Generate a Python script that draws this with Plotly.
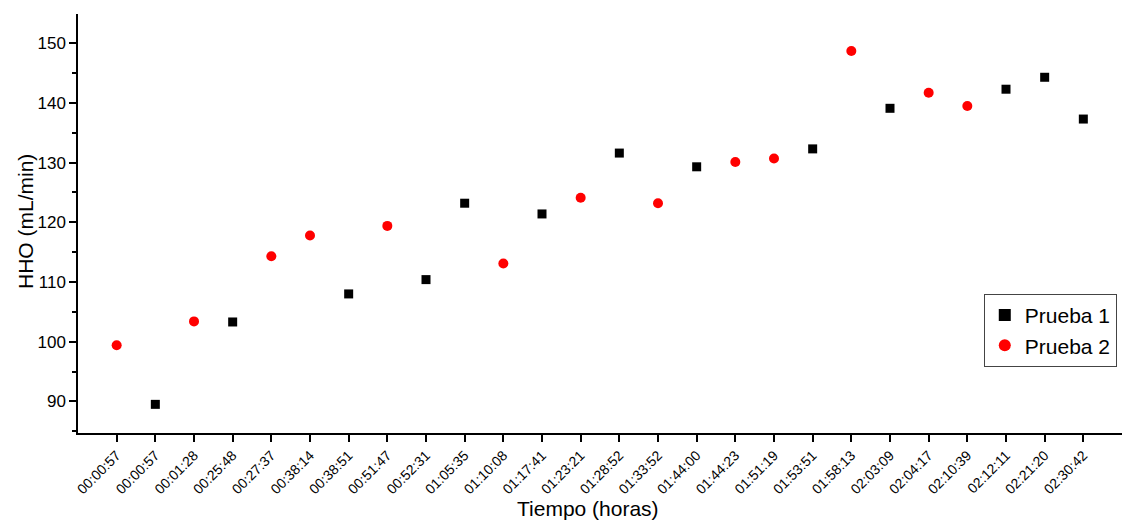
import plotly.graph_objects as go

# Time stamps of each measurement (x axis categories, in order)
tick_labels = [
    "00:00:57", "00:00:57", "00:01:28", "00:25:48", "00:27:37", "00:38:14",
    "00:38:51", "00:51:47", "00:52:31", "01:05:35", "01:10:08", "01:17:41",
    "01:23:21", "01:28:52", "01:33:52", "01:44:00", "01:44:23", "01:51:19",
    "01:53:51", "01:58:13", "02:03:09", "02:04:17", "02:10:39", "02:12:11",
    "02:21:20", "02:30:42",
]

# Prueba 1: category position (1-based) and HHO flow (mL/min)
p1_pos = [2, 4, 7, 9, 10, 12, 14, 16, 19, 21, 24, 25, 26]
p1_hho = [89.5, 103.3, 108.0, 110.4, 123.2, 121.4, 131.6, 129.3, 132.3, 139.1, 142.3, 144.3, 137.3]

# Prueba 2: category position (1-based) and HHO flow (mL/min)
p2_pos = [1, 3, 5, 6, 8, 11, 13, 15, 17, 18, 20, 22, 23]
p2_hho = [99.4, 103.4, 114.3, 117.8, 119.4, 113.1, 124.1, 123.2, 130.1, 130.7, 148.7, 141.7, 139.5]

FONT = "Arial, 'Liberation Sans', sans-serif"

fig = go.Figure()
fig.add_trace(go.Scatter(
    x=p1_pos, y=p1_hho, mode="markers", name="Prueba 1",
    marker=dict(symbol="square", size=9, color="black"),
))
fig.add_trace(go.Scatter(
    x=p2_pos, y=p2_hho, mode="markers", name="Prueba 2",
    marker=dict(symbol="circle", size=10, color="#ff0000"),
))

fig.update_layout(
    width=1122, height=520,
    margin=dict(l=78, r=0, t=14, b=87),
    paper_bgcolor="white", plot_bgcolor="white",
    font=dict(family=FONT, color="black"),
    showlegend=True,
    legend=dict(
        x=0.995, y=0.332, xanchor="right", yanchor="top",
        bordercolor="#444444", borderwidth=1,
        font=dict(size=21, family=FONT),
        itemsizing="constant", tracegroupgap=0,
    ),
    xaxis=dict(
        range=[0, 27], tickmode="array",
        tickvals=list(range(1, len(tick_labels) + 1)), ticktext=tick_labels,
        tickangle=-45, tickfont=dict(size=14),
        showline=True, linecolor="black", linewidth=1.5,
        ticks="outside", ticklen=7, tickwidth=1.5, tickcolor="black",
        showgrid=False, zeroline=False,
    ),
    yaxis=dict(
        range=[84.7, 154.9], tickmode="linear", tick0=90, dtick=10,
        tickfont=dict(size=17),
        showline=True, linecolor="black", linewidth=1.5,
        ticks="outside", ticklen=7, tickwidth=1.5, tickcolor="black",
        minor=dict(ticks="outside", ticklen=4, tickwidth=1.5, tickcolor="black",
                   dtick=5, tick0=85, showgrid=False),
        showgrid=False, zeroline=False,
    ),
    annotations=[
        dict(text="Tiempo (horas)", x=588, y=508, xref="paper", yref="paper",
             xanchor="center", yanchor="middle",
             showarrow=False, font=dict(size=21, family=FONT)),
        dict(text="HHO (mL/min)", x=25, y=222, xref="paper", yref="paper",
             xanchor="center", yanchor="middle",
             showarrow=False, textangle=-90, font=dict(size=21, family=FONT)),
    ],
)

# Convert the pixel-placed axis titles to paper coordinates
plot_w = 1122 - 78
plot_h = 520 - 14 - 87
for ann in fig.layout.annotations:
    px, py = ann.x, ann.y
    ann.x = (px - 78) / plot_w
    ann.y = (520 - 87 - py) / plot_h

fig.write_html("out.html")
